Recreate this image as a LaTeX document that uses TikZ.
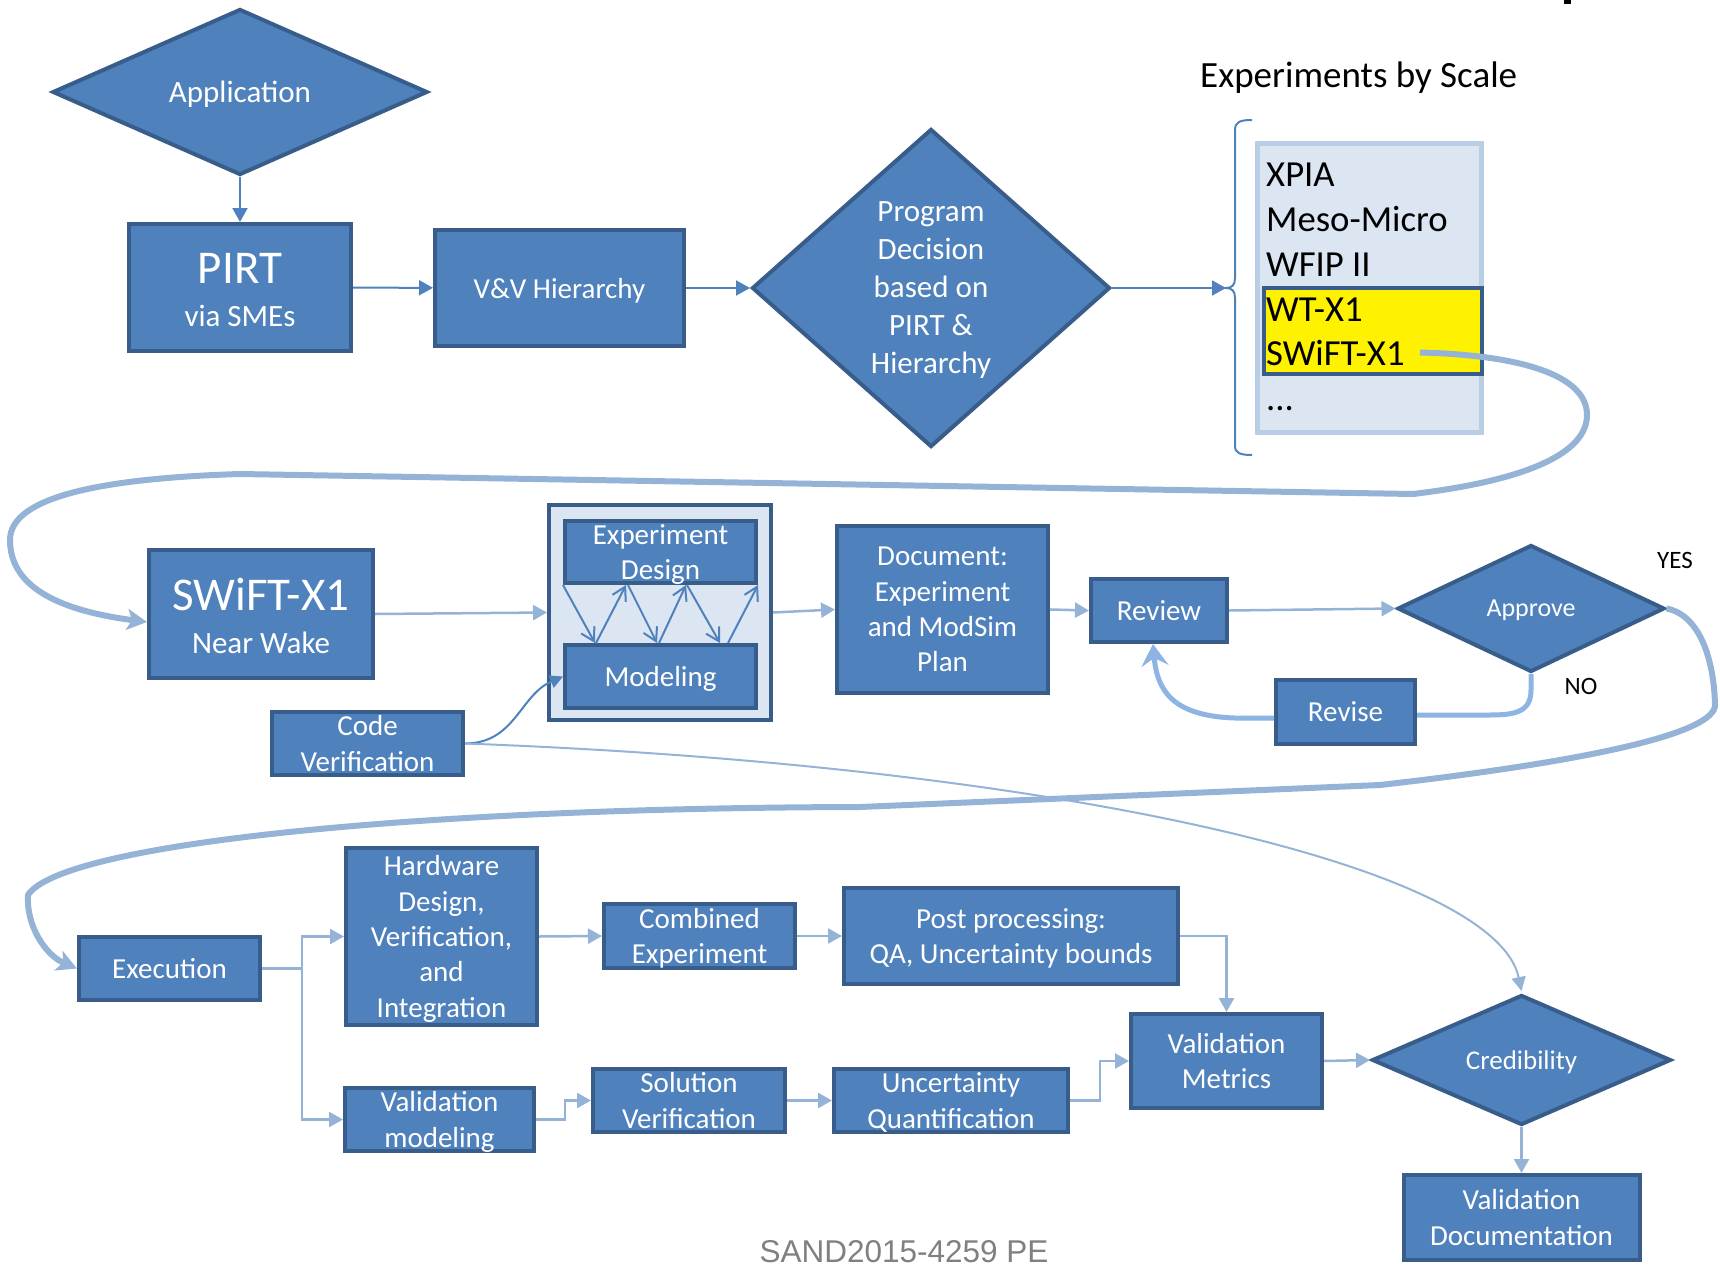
\documentclass[tikz,border=0pt]{standalone}
\usepackage{fontspec}
\setmainfont{Carlito}
\newfontfamily\sandfont{Liberation Sans}
\usetikzlibrary{shapes.geometric,arrows.meta}

\definecolor{bfill}{HTML}{4F81BD}
\definecolor{bdark}{HTML}{385D8A}
\definecolor{paleblue}{HTML}{DCE6F2}
\definecolor{panelrim}{HTML}{B9CDE5}
\definecolor{lline}{HTML}{95B3D7}
\definecolor{loopline}{HTML}{8EB4E3}
\definecolor{sandgray}{HTML}{808080}

\tikzset{
  blk/.style={draw=bdark, fill=bfill, line width=4pt, text=white, align=center,
    inner sep=0pt, text depth=0pt, font=\fontsize{29}{35.4}\selectfont},
  dec/.style={blk, diamond},
  toparr/.style={draw=bfill, line width=2pt, -{Triangle[length=14pt,width=15pt]}},
  flow/.style={draw=lline, line width=2.5pt, -{Triangle[length=14pt,width=15pt]}},
  zig/.style={draw=bfill, line width=2pt, -{Straight Barb[length=13pt,width=15pt]}},
  bigloop/.style={draw=lline, line width=6pt, -{Stealth[length=20pt,width=21pt,inset=5pt]}},
  revloop/.style={draw=loopline, line width=5pt},
  scaleitem/.style={anchor=base west, inner sep=0pt, font=\fontsize{36.7}{45}\selectfont},
  note/.style={inner sep=0pt, font=\fontsize{25}{30}\selectfont},
}

\begin{document}
\begin{tikzpicture}[x=1pt, y=-1pt]
  \useasboundingbox (0,0) rectangle (1720,1268);
  \fill (1564,0) rectangle (1571,4);

  % top row
  \node[dec, minimum width=375pt, minimum height=166pt, font=\fontsize{31}{38}\selectfont] (app) at (240,92) {Application};
  \node[blk, minimum width=222pt, minimum height=127pt] (pirt) at (240,287.5)
    {\rule{0pt}{35pt}\fontsize{47}{44}\selectfont PIRT\\[8.5pt]\fontsize{31}{44}\selectfont via SMEs};
  \node[blk, minimum width=249pt, minimum height=116pt] (vv) at (559.5,288) {V\&V Hierarchy};
  \node[dec, minimum width=358pt, minimum height=318pt, font=\fontsize{31}{38}\selectfont] (prog) at (931,288)
    {Program\\Decision\\based on\\PIRT \&\\Hierarchy};

  \node[anchor=base west, inner sep=0pt, font=\fontsize{37}{45}\selectfont] (title) at (1200,88) {Experiments by Scale};
  \node[draw=panelrim, fill=paleblue, line width=5pt, minimum width=224pt, minimum height=289pt] (panel) at (1369.5,288) {};
  \node[draw=bdark, fill=yellow, line width=4pt, minimum width=218pt, minimum height=86pt] (hilite) at (1373,331) {};
  \node[scaleitem] (xpia) at (1266,186) {XPIA};
  \node[scaleitem] (meso) at (1266,231) {Meso-Micro};
  \node[scaleitem] (wfip) at (1266,276) {WFIP II};
  \node[scaleitem] (wtx) at (1266,321) {WT-X1};
  \node[scaleitem] (swiftitem) at (1266,365) {SWiFT-X1};
  \node[scaleitem] (more) at (1266,410) {...};
  \coordinate (bracetip) at (1226,288);
  \draw[bfill, line width=2pt] (1252,120) .. controls (1240,120) and (1235,122) .. (1235,130) -- (1235,278)
    .. controls (1235,285) and (1232,288) .. (bracetip) .. controls (1232,288) and (1235,291) .. (1235,298)
    -- (1235,446) .. controls (1235,453) and (1240,455) .. (1252,455);

  \draw[toparr] (app) -- (pirt);
  \draw[toparr] (pirt) -- (vv);
  \draw[toparr] (vv) -- (prog);
  \draw[toparr] (prog.east) -- (bracetip);

  % middle row
  \node[blk, minimum width=224pt, minimum height=128pt] (swift) at (261,614)
    {\rule{0pt}{35pt}\fontsize{47}{43}\selectfont SWiFT-X1\\[7.6pt]\fontsize{31}{43}\selectfont Near Wake};
  \node[draw=bdark, fill=paleblue, line width=4pt, minimum width=222pt, minimum height=215pt] (outer) at (660,612.5) {};
  \node[blk, minimum width=191pt, minimum height=62pt] (design) at (660.5,552) {Experiment\\Design};
  \node[blk, minimum width=191pt, minimum height=63pt] (model) at (660.5,676.5) {Modeling};
  \node[blk, minimum width=191pt, minimum height=63pt] (code) at (367.5,743.5) {Code\\Verification};
  \node[blk, minimum width=211pt, minimum height=167pt] (doc) at (942.5,609.5) {Document:\\Experiment\\and ModSim\\Plan};
  \node[blk, minimum width=136pt, minimum height=63pt] (review) at (1159,610.5) {Review};
  \node[dec, minimum width=267pt, minimum height=127pt, font=\fontsize{26}{32}\selectfont] (approve) at (1531,608.5) {Approve};
  \node[blk, minimum width=139pt, minimum height=64pt] (revise) at (1345.5,712) {Revise};
  \node[note] (yes) at (1675,560) {YES};
  \node[note] (no) at (1581,686) {NO};

  \foreach \a/\b in {0/32, 65/94, 124/157}
    \draw[zig] ([xshift=\a pt]design.south west) -- ([xshift=\b pt]model.north west);
  \foreach \a/\b in {33/63, 96/123, 165/195}
    \draw[zig] ([xshift=\a pt]model.north west) -- ([xshift=\b pt]design.south west);

  \draw[flow] (swift.east) -- (outer.west);
  \draw[flow] (outer.east) -- (doc.west);
  \draw[flow] (doc.east) -- (review.west);
  \draw[flow] (review.east) -- (approve.west);
  \draw[bfill, line width=2pt, -{Triangle[length=13pt,width=13pt]}] (code.east) .. controls (515,743.5) and (520,695) .. (model.west);
  \draw[lline, line width=2pt, -{Triangle[length=14pt,width=14pt]}] (code.east) .. controls (1050,765) and (1495,865) .. (1521.5,991);

  \draw[revloop] (approve.south) -- (1531,690) .. controls (1531,712) and (1515,715) .. (1490,715) -- ([yshift=-3pt]revise.east);
  \draw[revloop, -{Stealth[length=22pt,width=27pt,inset=8pt]}] ([yshift=-6pt]revise.west) -- (1235,718)
    .. controls (1172,716) and (1157,690) .. ([xshift=-6pt]review.south);

  \draw[bigloop] ([xshift=15pt]swiftitem.east) .. controls (1520,355) and (1587,375) .. (1587,415)
    .. controls (1587,452) and (1530,480) .. (1413,494) -- (240,474)
    .. controls (110,478) and (10,495) .. (10,540) .. controls (10,585) and (55,610) .. ([yshift=-8pt]swift.west);

  % bottom rows
  \node[blk, minimum width=181pt, minimum height=63pt] (exec) at (169.5,968.5) {Execution};
  \node[blk, minimum width=191pt, minimum height=177pt] (hw) at (441.5,936.5) {Hardware\\Design,\\Verification,\\and\\Integration};
  \node[blk, minimum width=189pt, minimum height=63pt] (valmod) at (439.5,1119.5) {Validation\\modeling};
  \node[blk, minimum width=191pt, minimum height=64pt] (comb) at (699.5,936) {Combined\\Experiment};
  \node[blk, minimum width=334pt, minimum height=96pt] (post) at (1011,936) {Post processing:\\QA, Uncertainty bounds};
  \node[blk, minimum width=192pt, minimum height=63pt] (solver) at (689,1100.5) {Solution\\Verification};
  \node[blk, minimum width=234pt, minimum height=63pt] (uq) at (951,1100.5) {Uncertainty\\Quantification};
  \node[blk, minimum width=191pt, minimum height=94pt] (metrics) at (1226.5,1061) {Validation\\Metrics};
  \node[dec, minimum width=299pt, minimum height=126pt, font=\fontsize{27}{32}\selectfont] (cred) at (1521.5,1060) {Credibility};
  \node[blk, minimum width=236pt, minimum height=85pt] (valdoc) at (1521.5,1217.5) {Validation\\Documentation};

  \draw[bigloop] (approve.east) .. controls (1700,615) and (1714,660) .. (1715,705)
    .. controls (1715,732) and (1600,760) .. (1380,785) -- (860,807)
    .. controls (400,808) and (60,845) .. (28,895) .. controls (26,925) and (45,955) .. (exec.west);

  \coordinate (split) at (302,968.5);
  \draw[lline, line width=2.5pt] (exec.east) -- (split);
  \draw[flow] (split) |- (hw.west);
  \draw[flow] (split) |- (valmod.west);
  \draw[flow] (hw.east) -- (comb.west);
  \draw[flow] (comb.east) -- (post.west);
  \draw[flow] (post.east) -| (metrics.north);
  \draw[flow] (valmod.east) -- ++(29,0) |- (solver.west);
  \draw[flow] (solver.east) -- (uq.west);
  \draw[flow] (uq.east) -- ++(30,0) |- (metrics.west);
  \draw[flow] (metrics.east) -- (cred.west);
  \draw[flow] (cred.south) -- (valdoc.north);

  \node[anchor=base, inner sep=0pt, text=sandgray, font=\sandfont\fontsize{31.5}{36}\selectfont] (sand) at (904,1262) {SAND2015-4259 PE};
\end{tikzpicture}
\end{document}
